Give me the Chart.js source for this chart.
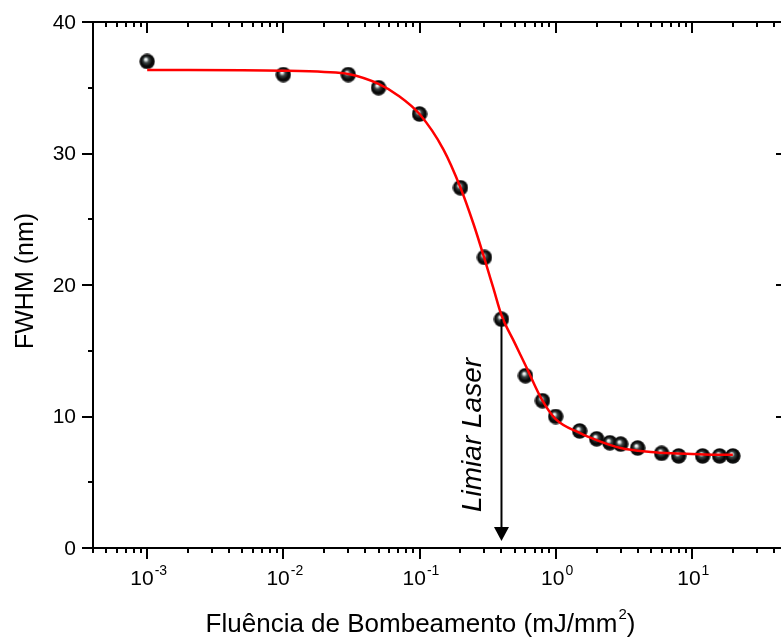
<!DOCTYPE html>
<html>
<head>
<meta charset="utf-8">
<script src="https://cdn.jsdelivr.net/npm/chart.js@4/dist/chart.umd.min.js"></script>
<style>
  html, body { margin: 0; padding: 0; background: #fff; overflow: hidden; }
  #wrap { width: 781px; height: 637px; overflow: hidden; }
</style>
</head>
<body>
<div id="wrap"><canvas id="fwhmChart" width="800" height="637"></canvas></div>
<script>
// measured points: pump fluence (mJ/mm2) vs FWHM (nm)
const fluence = [0.001, 0.01, 0.03, 0.05, 0.1, 0.2, 0.3, 0.4, 0.6, 0.8, 1, 1.5, 2, 2.5, 3, 4, 6, 8, 12, 16, 20];
const fwhm    = [37.0, 36.0, 36.0, 35.0, 33.0, 27.4, 22.1, 17.4, 13.1, 11.2, 10.0, 8.9, 8.3, 8.0, 7.9, 7.6, 7.2, 7.0, 7.0, 7.0, 7.0];

// fitted curve, sampled
const fitFluence = [0.001, 0.002, 0.005, 0.01, 0.02, 0.03, 0.05, 0.07, 0.1, 0.15, 0.2, 0.25, 0.3, 0.35, 0.4, 0.5, 0.6, 0.8, 1, 1.5, 2, 3, 5, 7, 10, 15, 20];
const fitFwhm    = [36.35, 36.35, 36.34, 36.3, 36.2, 36.05, 35.3, 34.4, 33.0, 30.3, 27.4, 24.6, 22.0, 19.7, 17.7, 15.6, 13.9, 11.2, 9.8, 8.75, 8.2, 7.6, 7.3, 7.2, 7.15, 7.1, 7.1];

// threshold marker
const thresholdFluence = 0.4;
const thresholdFwhm = 17.4;
const thresholdLabel = 'Limiar Laser';

// axes
const xRange = [4e-4, 50];
const yRange = [0, 40];
const yTickValues = [0, 10, 20, 30, 40];
const yMinorValues = [5, 15, 25, 35];
const xTickExponents = [-3, -2, -1, 0, 1];
const xTitle = 'Fluência de Bombeamento (mJ/mm';
const xTitleSup = '2';
const yTitle = 'FWHM (nm)';

const FONT = '"Liberation Sans", Arial, sans-serif';

// shaded black sphere used as the marker
function makeSphere(size) {
    const c = document.createElement('canvas');
    c.width = size; c.height = size;
    const g = c.getContext('2d');
    const r = size / 2;
    const grad = g.createRadialGradient(r * 0.8, r * 0.7, 0, r, r, r);
    grad.addColorStop(0, '#ffffff');
    grad.addColorStop(0.14, '#dfe6e6');
    grad.addColorStop(0.36, '#3e4646');
    grad.addColorStop(0.7, '#050505');
    grad.addColorStop(1, '#1c1c1c');
    g.fillStyle = grad;
    g.beginPath();
    g.arc(r, r, r - 0.3, 0, Math.PI * 2);
    g.fill();
    return c;
}

const framePlugin = {
    id: 'frame',
    afterDatasetsDraw(chart) {
        const ctx = chart.ctx;
        const xs = chart.scales.x, ys = chart.scales.y;
        const { left, right, top, bottom } = chart.chartArea;
        const major = 11, minor = 5;

        ctx.save();
        ctx.strokeStyle = '#000';
        ctx.fillStyle = '#000';
        ctx.lineWidth = 2;
        ctx.lineCap = 'butt';

        // box
        ctx.beginPath();
        ctx.moveTo(left, top); ctx.lineTo(right, top);
        ctx.moveTo(left, bottom); ctx.lineTo(right, bottom);
        ctx.moveTo(left, top - 1); ctx.lineTo(left, bottom + 1);
        ctx.moveTo(right, top - 1); ctx.lineTo(right, bottom + 1);
        ctx.stroke();

        // y ticks: outside on the left, inside on the right
        const yTick = (v, len) => {
            const p = Math.round(ys.getPixelForValue(v));
            ctx.beginPath();
            ctx.moveTo(left, p); ctx.lineTo(left - len, p);
            ctx.moveTo(right, p); ctx.lineTo(right - len, p);
            ctx.stroke();
        };
        yTickValues.forEach(v => yTick(v, major));
        yMinorValues.forEach(v => yTick(v, minor));

        // x ticks: outside at the bottom, inside at the top
        const xTick = (v, len) => {
            const p = Math.round(xs.getPixelForValue(v));
            ctx.beginPath();
            ctx.moveTo(p, bottom); ctx.lineTo(p, bottom + len);
            ctx.moveTo(p, top); ctx.lineTo(p, top + len);
            ctx.stroke();
        };
        for (let k = -4; k <= 1; k++) {
            for (let m = 1; m <= 9; m++) {
                const v = m * Math.pow(10, k);
                if (v < xRange[0] * 0.999 || v > xRange[1] * 1.001) continue;
                xTick(v, m === 1 ? major : minor);
            }
        }

        // y labels
        ctx.font = '21px ' + FONT;
        ctx.textAlign = 'right';
        ctx.textBaseline = 'middle';
        yTickValues.forEach(v => {
            ctx.fillText(String(v), left - 17, ys.getPixelForValue(v) + 1);
        });

        // x labels as 10 with superscript exponent
        xTickExponents.forEach(e => {
            const p = xs.getPixelForValue(Math.pow(10, e));
            const base = '10', sup = String(e);
            ctx.font = '21px ' + FONT;
            const wb = ctx.measureText(base).width;
            ctx.font = '14px ' + FONT;
            const ws = ctx.measureText(sup).width;
            const x0 = p - (wb + ws) / 2 + 1;
            ctx.textAlign = 'left';
            ctx.textBaseline = 'alphabetic';
            ctx.font = '21px ' + FONT;
            ctx.fillText(base, x0, bottom + 37);
            ctx.font = '14px ' + FONT;
            ctx.fillText(sup, x0 + wb + 1, bottom + 27);
        });

        // axis titles
        ctx.font = '26px ' + FONT;
        ctx.textBaseline = 'alphabetic';
        const wt = ctx.measureText(xTitle).width;
        const wParen = ctx.measureText(')').width;
        ctx.font = '15px ' + FONT;
        const wSup = ctx.measureText(xTitleSup).width;
        const tx = 420 - (wt + wSup + wParen) / 2;
        ctx.textAlign = 'left';
        ctx.font = '26px ' + FONT;
        ctx.fillText(xTitle, tx, 632);
        ctx.fillText(')', tx + wt + wSup + 1, 632);
        ctx.font = '15px ' + FONT;
        ctx.fillText(xTitleSup, tx + wt + 1, 619);

        ctx.save();
        ctx.translate(33, 281);
        ctx.rotate(-Math.PI / 2);
        ctx.textAlign = 'center';
        ctx.font = '25px ' + FONT;
        ctx.fillText(yTitle, 0, 0);
        ctx.restore();

        // threshold arrow
        const ax = xs.getPixelForValue(thresholdFluence);
        const ay0 = ys.getPixelForValue(thresholdFwhm);
        const ay1 = ys.getPixelForValue(0) - 7;
        ctx.beginPath();
        ctx.moveTo(ax, ay0);
        ctx.lineTo(ax, ay1 - 12);
        ctx.stroke();
        ctx.beginPath();
        ctx.moveTo(ax - 7.5, ay1 - 14);
        ctx.lineTo(ax + 7.5, ay1 - 14);
        ctx.lineTo(ax, ay1);
        ctx.closePath();
        ctx.fill();

        ctx.save();
        ctx.translate(ax - 20, 435);
        ctx.rotate(-Math.PI / 2);
        ctx.textAlign = 'center';
        ctx.font = 'italic 28px ' + FONT;
        ctx.fillText(thresholdLabel, 0, 0);
        ctx.restore();

        ctx.restore();
    }
};

const sphere = makeSphere(16);

new Chart(document.getElementById('fwhmChart'), {
    type: 'scatter',
    data: {
        datasets: [
            {
                label: 'fit',
                data: fitFluence.map((x, i) => ({ x, y: fitFwhm[i] })),
                showLine: true,
                borderColor: '#ff0000',
                borderWidth: 2.5,
                pointRadius: 0,
                cubicInterpolationMode: 'monotone',
                order: 0
            },
            {
                label: 'FWHM',
                data: fluence.map((x, i) => ({ x, y: fwhm[i] })),
                pointStyle: sphere,
                pointRadius: 8,
                order: 1
            }
        ]
    },
    options: {
        responsive: false,
        animation: false,
        layout: { padding: { left: 93, top: 22, right: 13, bottom: 89 } },
        plugins: { legend: { display: false }, tooltip: { enabled: false } },
        scales: {
            x: { type: 'logarithmic', min: xRange[0], max: xRange[1], display: false },
            y: { type: 'linear', min: yRange[0], max: yRange[1], display: false }
        }
    },
    plugins: [framePlugin]
});
</script>
</body>
</html>
